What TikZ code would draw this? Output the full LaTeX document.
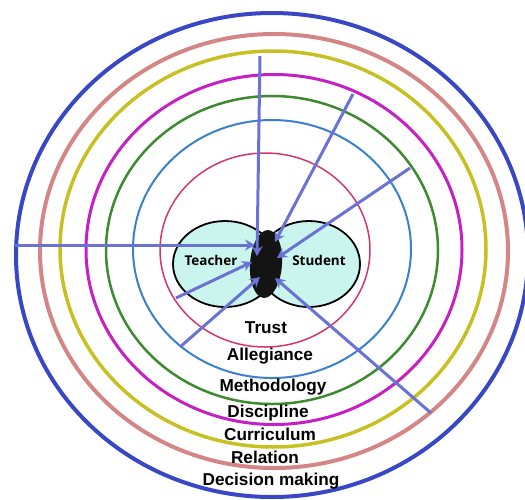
\documentclass[tikz,border=0pt]{standalone}
\usepackage{fontspec}
\setmainfont{Liberation Sans}
\newfontfamily\lobefont{Open Sans}
\usetikzlibrary{arrows.meta,shapes.geometric}
\definecolor{trustc}{RGB}{212,52,112}
\definecolor{allegc}{RGB}{58,128,204}
\definecolor{methc}{RGB}{62,138,48}
\definecolor{discc}{RGB}{196,32,196}
\definecolor{currc}{RGB}{200,192,34}
\definecolor{relc}{RGB}{212,134,134}
\definecolor{decc}{RGB}{56,72,196}
\definecolor{arrc}{RGB}{106,114,212}
\definecolor{lobec}{RGB}{202,244,238}
\tikzset{ring/.style={line width=#1},
  lbl/.style={font=\bfseries\fontsize{17.2}{19}\selectfont,inner sep=0pt}}

\begin{document}
\begin{tikzpicture}[x=1pt,y=-1pt,
  lobe/.style={ellipse,draw=black,line width=1.8pt,fill=lobec},
  pull/.style={draw=arrc,line width=3pt,-{Stealth[length=10pt,width=11pt,inset=3.5pt]}},
  lobetext/.style={font=\lobefont\bfseries\fontsize{13.5}{15}\selectfont,inner sep=0pt}]
  \useasboundingbox (0,0) rectangle (525,499);

  % rings, inside out
  \draw[ring=1.5pt,trustc] (265,250) ellipse [x radius=105pt,y radius=97pt];
  \draw[ring=2pt,allegc] (272,249) ellipse [x radius=139pt,y radius=129pt];
  \draw[ring=2.5pt,methc] (272,250) ellipse [x radius=166pt,y radius=154pt];
  \draw[ring=3pt,discc] (274,249.5) ellipse [x radius=188pt,y radius=175pt];
  \draw[ring=3.5pt,currc] (273,249) ellipse [x radius=213pt,y radius=198pt];
  \draw[ring=4pt,relc] (274,251) ellipse [x radius=234pt,y radius=217pt];
  \draw[ring=4pt,decc] (272,255) ellipse [x radius=256pt,y radius=242pt];

  \node[lobe,minimum width=104pt,minimum height=86pt] (teacher) at (225,264) {};
  \node[lobe,minimum width=102pt,minimum height=86pt] (student) at (309,264) {};
  \node[ellipse,fill=black!92,minimum width=32pt,minimum height=68pt,rotate=-4] (core) at (266,264) {};

  \coordinate (up) at (260,56);
  \coordinate (upright) at (353,94);
  \coordinate (right) at (410,168);
  \coordinate (left) at (15,245);
  \coordinate (lowleft) at (176,298);
  \coordinate (downleft) at (180,347);
  \coordinate (downright) at (431,413);
  \coordinate (t1) at (257,256);
  \coordinate (t2) at (275,242);
  \coordinate (t3) at (277,258);
  \coordinate (t4) at (255,245);
  \coordinate (t5) at (252,262);
  \coordinate (t6) at (260,277);
  \coordinate (t7) at (275,278);

  \draw[pull] (up) -- (t1);
  \draw[pull] (upright) -- (t2);
  \draw[pull] (right) -- (t3);
  \draw[pull] (left) -- (t4);
  \draw[pull] (lowleft) -- (t5);
  \draw[pull] (downleft) -- (t6);
  \draw[pull] (downright) -- (t7);

  \node[lobetext] (tname) at (211,260) {Teacher};
  \node[lobetext] (sname) at (319,260) {Student};

  \node[lbl] (trust) at (266,328) {Trust};
  \node[lbl] (alleg) at (270,356) {Allegiance};
  \node[lbl] (meth) at (273,387) {Methodology};
  \node[lbl] (disc) at (268,413) {Discipline};
  \node[lbl] (curr) at (270,434) {Curriculum};
  \node[lbl] (rel) at (265,457) {Relation};
  \node[lbl] (dec) at (271,481) {Decision making};
\end{tikzpicture}
\end{document}
